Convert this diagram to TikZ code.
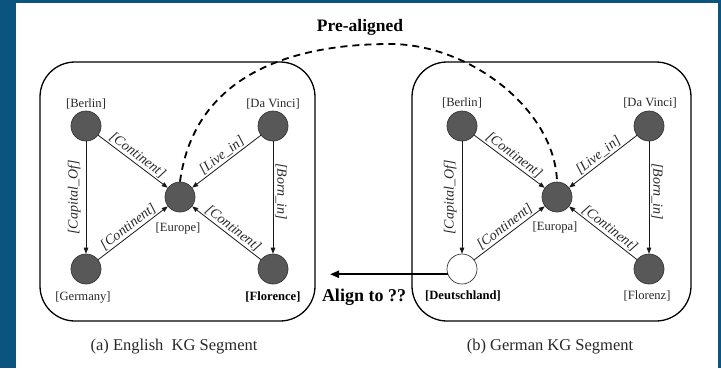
\documentclass[tikz,border=0pt]{standalone}
\usepackage{fontspec}
\setmainfont{Liberation Serif}
\usetikzlibrary{arrows.meta}
\definecolor{frameblue}{RGB}{11,84,128}
\definecolor{entfill}{RGB}{88,88,88}
\definecolor{entline}{RGB}{55,55,55}
\definecolor{inkgray}{RGB}{40,40,40}

\begin{document}
\begin{tikzpicture}[x=1bp,y=-1bp,
  ent/.style={circle, minimum size=30bp, inner sep=0pt, fill=entfill, draw=entline, line width=0.7bp},
  newent/.style={ent, fill=white},
  lab/.style={font=\fontsize{12.6bp}{14bp}\selectfont, text=inkgray, inner sep=0pt},
  blab/.style={lab, font=\fontsize{12.6bp}{14bp}\selectfont\bfseries, text=black},
  rel/.style={draw=black!90, line width=0.8bp, -{Triangle[length=6bp,width=4.6bp]}},
  elab/.style={font=\fontsize{14bp}{16bp}\selectfont\itshape, text=inkgray, inner sep=1.5bp},
  kgbox/.style={draw=black, line width=1.3bp, rounded corners=35bp},
  caption/.style={font=\fontsize{16.5bp}{19bp}\selectfont, text=inkgray},
  headline/.style={font=\fontsize{17.5bp}{20bp}\selectfont\bfseries, text=black},
  prealign/.style={draw=black, line width=1.8bp, dash pattern=on 7bp off 5bp},
  alignarrow/.style={draw=black, line width=2.2bp, -{Triangle[length=9bp,width=7bp]}}
]
% frame and canvas
\fill[frameblue] (0,0) rectangle (721,368);
\fill[white] (16,3) rectangle (718,368);
\useasboundingbox (0,0) rectangle (721,368);

% the two knowledge-graph segments
\draw[kgbox] (40,62) rectangle (315,321);
\draw[kgbox] (412,62) rectangle (691,321);

% English entities
\node[ent] (b1) at (86,126) {};
\node[ent] (d1) at (273,126) {};
\node[ent] (e1) at (180,197) {};
\node[ent] (g1) at (86,269) {};
\node[ent] (f1) at (273,269) {};
\node[lab]  (lb1) at (86,104)  {[Berlin]};
\node[lab]  (ld1) at (273,104) {[Da Vinci]};
\node[lab]  (le1) at (178,228) {[Europe]};
\node[lab]  (lg1) at (83,297)  {[Germany]};
\node[blab] (lf1) at (273,297) {[Florence]};

% German entities
\node[ent] (b2) at (462,126) {};
\node[ent] (d2) at (649,126) {};
\node[ent] (e2) at (557,197) {};
\node[newent] (g2) at (462,269) {};
\node[ent] (f2) at (649,269) {};
\node[lab]  (lb2) at (462,103) {[Berlin]};
\node[lab]  (ld2) at (650,103) {[Da Vinci]};
\node[lab]  (le2) at (555,227) {[Europa]};
\node[blab] (lg2) at (463,296) {[Deutschland]};
\node[lab]  (lf2) at (647,296) {[Florenz]};

% English relations
\draw[rel] (b1) -- node[elab, sloped, above] {[Continent]} (e1);
\draw[rel] (d1) -- node[elab, sloped, above] {[Live\_in]} (e1);
\draw[rel] (g1) -- node[elab, sloped, above] {[Continent]} (e1);
\draw[rel] (f1) -- node[elab, sloped, above, pos=0.47] {[Continent]} (e1);
\draw[rel] (b1) -- node[elab, rotate=90, anchor=south, inner sep=5bp] {[Capital\_Of]} (g1);
\draw[rel] (d1) -- node[elab, rotate=-90, anchor=south, inner sep=2bp, pos=0.45] {[Born\_in]} (f1);

% German relations
\draw[rel] (b2) -- node[elab, sloped, above] {[Continent]} (e2);
\draw[rel] (d2) -- node[elab, sloped, above] {[Live\_in]} (e2);
\draw[rel] (g2) -- node[elab, sloped, above] {[Continent]} (e2);
\draw[rel] (f2) -- node[elab, sloped, above, pos=0.47] {[Continent]} (e2);
\draw[rel] (b2) -- node[elab, rotate=90, anchor=south, inner sep=5bp] {[Capital\_Of]} (g2);
\draw[rel] (d2) -- node[elab, rotate=-90, anchor=south, inner sep=2bp, pos=0.45] {[Born\_in]} (f2);

% pre-aligned seed pair
\coordinate (apex) at (390,44);
\draw[prealign] (e1.north) .. controls (195,70) and (300,44) .. (apex)
                           .. controls (470,44) and (555,110) .. (e2.north);
\node[headline] (pre) at (360,27) {Pre-aligned};

% entity still to be aligned
\coordinate (alignend) at (330,275);
\draw[alignarrow] (g2.200) -- (g2.200 -| alignend);
\node[headline, font=\fontsize{18bp}{20bp}\selectfont\bfseries] (ask) at (364,297) {Align to ??};

% captions
\node[caption] (capa) at (174,347) {(a) English~ KG Segment};
\node[caption] (capb) at (550,347) {(b) German KG Segment};
\end{tikzpicture}
\end{document}
